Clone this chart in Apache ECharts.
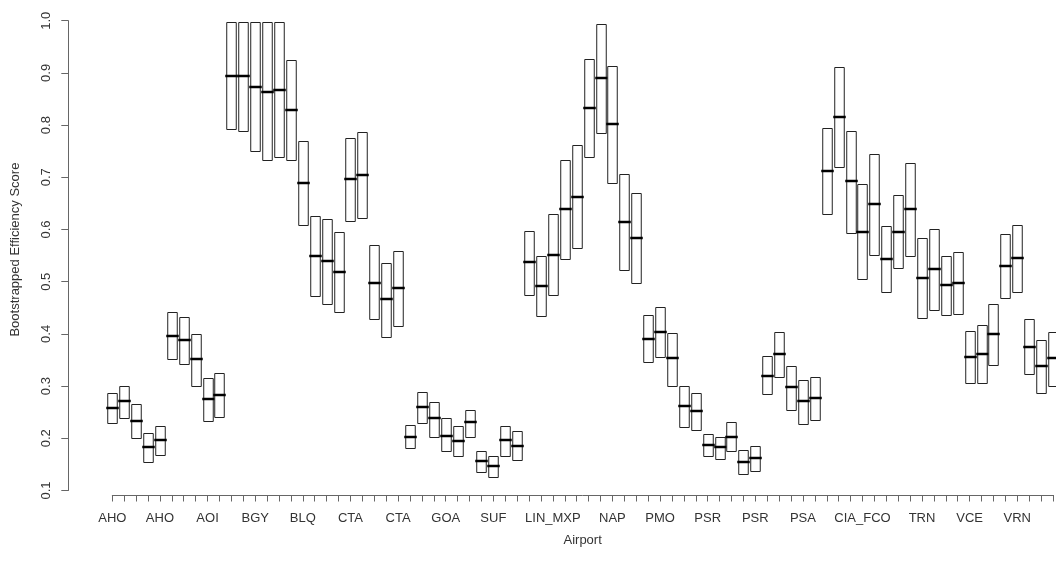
<!DOCTYPE html>
<html>
<head>
<meta charset="utf-8">
<script src="https://cdn.jsdelivr.net/npm/echarts@6/dist/echarts.min.js"></script>
<style>
  html, body { margin: 0; padding: 0; background: #fff; }
  #chart { width: 1056px; height: 563px; }
</style>
</head>
<body>
<div id="chart"></div>
<script>
// tick labels under the x axis (R drops the ones that would overlap, so most are empty)
var tickLabels = [
  'AHO', '', '', '', 'AHO', '', '', '', 'AOI', '', '', '', 'BGY', '', '', '',
  'BLQ', '', '', '', 'CTA', '', '', '', 'CTA', '', '', '', 'GOA', '', '', '',
  'SUF', '', '', '', '', 'LIN_MXP', '', '', '', '', 'NAP', '', '', '',
  'PMO', '', '', '', 'PSR', '', '', '', 'PSR', '', '', '', 'PSA', '', '', '', '',
  'CIA_FCO', '', '', '', '', 'TRN', '', '', '', 'VCE', '', '', '', 'VRN', '', '', ''
];
// lower edge of each box
var boxLow = [
  0.229, 0.239, 0.201, 0.155, 0.168, 0.351, 0.343, 0.301, 0.234, 0.241,
  0.792, 0.788, 0.751, 0.733, 0.738, 0.733, 0.608, 0.472, 0.457, 0.442,
  0.616, 0.622, 0.428, 0.394, 0.415, 0.181, 0.229, 0.203, 0.175, 0.166,
  0.203, 0.136, 0.126, 0.166, 0.159, 0.475, 0.435, 0.475, 0.543, 0.565,
  0.738, 0.785, 0.690, 0.522, 0.497, 0.347, 0.356, 0.301, 0.222, 0.216,
  0.166, 0.161, 0.175, 0.131, 0.138, 0.284, 0.318, 0.255, 0.228, 0.236,
  0.630, 0.720, 0.594, 0.506, 0.552, 0.481, 0.527, 0.549, 0.431, 0.446,
  0.437, 0.439, 0.306, 0.306, 0.340, 0.469, 0.481, 0.324, 0.287, 0.300
];
// median of each box
var boxMed = [
  0.258, 0.271, 0.234, 0.183, 0.197, 0.396, 0.389, 0.351, 0.275, 0.283,
  0.895, 0.894, 0.873, 0.864, 0.868, 0.829, 0.689, 0.549, 0.539, 0.519,
  0.697, 0.704, 0.498, 0.466, 0.487, 0.203, 0.260, 0.238, 0.204, 0.195,
  0.231, 0.157, 0.147, 0.197, 0.186, 0.537, 0.492, 0.552, 0.639, 0.662,
  0.832, 0.890, 0.802, 0.615, 0.583, 0.391, 0.403, 0.353, 0.261, 0.252,
  0.188, 0.183, 0.203, 0.155, 0.162, 0.320, 0.361, 0.298, 0.271, 0.277,
  0.712, 0.815, 0.692, 0.596, 0.649, 0.544, 0.596, 0.639, 0.507, 0.524,
  0.493, 0.498, 0.356, 0.362, 0.400, 0.530, 0.546, 0.375, 0.339, 0.353
];
// upper edge of each box
var boxHigh = [
  0.287, 0.301, 0.265, 0.210, 0.224, 0.441, 0.433, 0.400, 0.316, 0.325,
  0.997, 0.997, 0.997, 0.997, 0.997, 0.924, 0.769, 0.625, 0.620, 0.596,
  0.776, 0.786, 0.570, 0.535, 0.559, 0.226, 0.289, 0.269, 0.238, 0.223,
  0.255, 0.175, 0.166, 0.224, 0.214, 0.598, 0.549, 0.630, 0.734, 0.761,
  0.927, 0.993, 0.914, 0.707, 0.669, 0.437, 0.451, 0.401, 0.300, 0.287,
  0.208, 0.203, 0.232, 0.178, 0.186, 0.358, 0.403, 0.339, 0.312, 0.318,
  0.794, 0.911, 0.788, 0.687, 0.744, 0.607, 0.667, 0.727, 0.583, 0.601,
  0.549, 0.556, 0.406, 0.417, 0.458, 0.592, 0.608, 0.428, 0.389, 0.403
];
var yTicks = [0.1, 1.0];

var textCol = '#333';
var axisCol = '#666';
var fontFam = 'Liberation Sans, Arial, sans-serif';

var chart = echarts.init(document.getElementById('chart'), null, { renderer: 'canvas' });

var seriesData = [];
for (var i = 0; i < boxMed.length; i++) {
  seriesData.push([i + 1, boxLow[i], boxMed[i], boxHigh[i]]);
}

function renderBox(params, api) {
  var x = api.value(0);
  var lo = api.coord([x, api.value(1)]);
  var md = api.coord([x, api.value(2)]);
  var hi = api.coord([x, api.value(3)]);
  var w = api.size([0.8, 0])[0];
  var cx = Math.round(lo[0]);
  return {
    type: 'group',
    children: [{
      type: 'rect',
      shape: { x: cx - w / 2 + 0.5, y: Math.round(hi[1]) + 0.5, width: w, height: Math.round(lo[1]) - Math.round(hi[1]) },
      style: { fill: '#fff', stroke: '#222', lineWidth: 1 }
    }, {
      type: 'line',
      shape: { x1: cx - w / 2 - 1, y1: Math.round(md[1]), x2: cx + w / 2 + 2, y2: Math.round(md[1]) },
      style: { stroke: '#000', lineWidth: 2.5 }
    }]
  };
}

var option = {
  backgroundColor: '#fff',
  animation: false,
  grid: [
    { left: 68.3, top: 20.7, bottom: 72.5, right: 0 },
    { left: 112.3, top: 20.7, bottom: 72.5, right: -1.9 }
  ],
  xAxis: [{
    gridIndex: 0, type: 'value', show: false, min: 0, max: 1
  }, {
    gridIndex: 1,
    type: 'value',
    min: 1,
    max: 80,
    interval: 1,
    offset: 4.5,
    name: 'Airport',
    nameLocation: 'middle',
    nameGap: 39,
    nameTextStyle: { color: textCol, fontSize: 13, fontFamily: fontFam },
    axisLine: { show: true, lineStyle: { color: axisCol, width: 1 } },
    axisTick: { show: true, length: 6.5, lineStyle: { color: axisCol } },
    splitLine: { show: false },
    axisLabel: {
      margin: 17,
      color: textCol,
      fontSize: 13,
      fontFamily: fontFam,
      showMinLabel: true,
      showMaxLabel: true,
      formatter: function (v) {
        var k = Math.round(v) - 1;
        return tickLabels[k] || '';
      }
    }
  }],
  yAxis: [{
    gridIndex: 0,
    type: 'value',
    min: yTicks[0],
    max: yTicks[1],
    interval: 0.1,
    name: 'Bootstrapped Efficiency Score',
    nameLocation: 'middle',
    nameGap: 46,
    nameTextStyle: { color: textCol, fontSize: 13, fontFamily: fontFam, padding: [0, 0, 0, 12] },
    axisLine: { show: true, lineStyle: { color: axisCol, width: 1 } },
    axisTick: { show: true, length: 7, lineStyle: { color: axisCol } },
    splitLine: { show: false },
    axisLabel: {
      rotate: 90,
      margin: 15,
      color: textCol,
      fontSize: 13,
      fontFamily: fontFam,
      formatter: function (v) { return v.toFixed(1); }
    }
  }, {
    gridIndex: 1,
    type: 'value',
    show: false,
    min: yTicks[0],
    max: yTicks[1]
  }],
  series: [{
    type: 'custom',
    xAxisIndex: 1,
    yAxisIndex: 1,
    clip: false,
    renderItem: renderBox,
    encode: { x: 0, y: [1, 2, 3] },
    data: seriesData
  }]
};

chart.setOption(option);
</script>
</body>
</html>
